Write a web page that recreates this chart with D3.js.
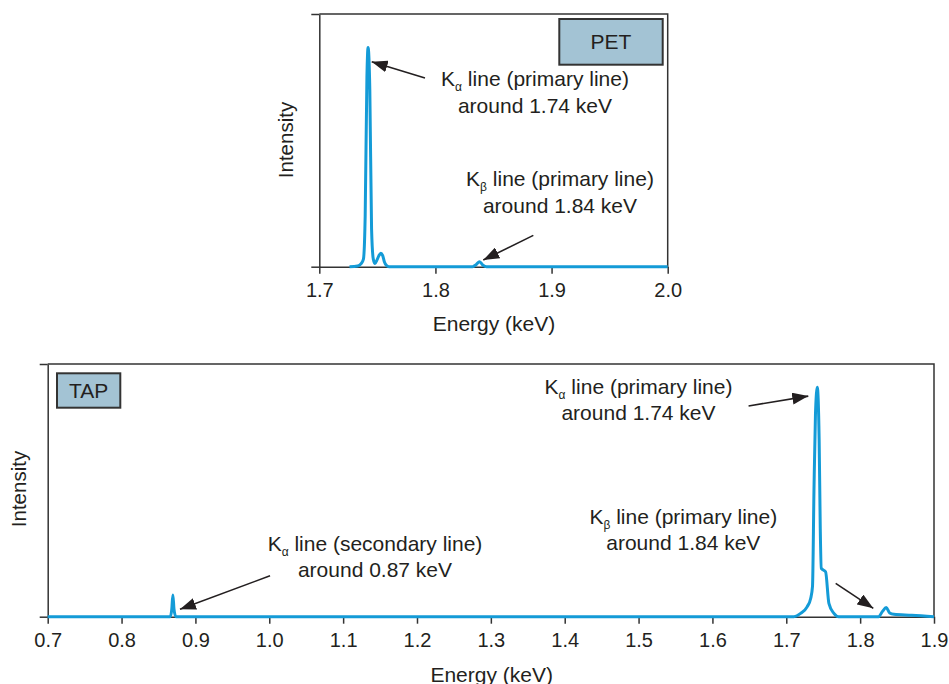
<!DOCTYPE html>
<html>
<head>
<meta charset="utf-8">
<script src="https://cdn.jsdelivr.net/npm/d3@7"></script>
<style>
  body { margin: 0; background: #fff; }
  text { font-family: "Liberation Sans", Arial, sans-serif; fill: #231f20; }
</style>
</head>
<body>
<div id="container"></div>
<script>
// PET crystal spectrum (energy in keV, intensity in % of axis height)
const petEnergy = [1.726, 1.733, 1.736, 1.738, 1.7395, 1.741, 1.742, 1.7435, 1.745, 1.7465, 1.748,
  1.750, 1.7515, 1.753, 1.7545, 1.756, 1.758, 1.760, 1.832, 1.835, 1.838, 1.841, 1.844, 2.0];
const petIntensity = [0, 0.3, 1.2, 3, 20, 75, 86.7, 70, 15, 3, 1.3,
  3, 4.5, 5.3, 4.5, 2, 0.4, 0, 0, 0.8, 2, 0.6, 0, 0];

// TAP crystal spectrum
const tapEnergy = [0.7, 0.866, 0.868, 0.8695, 0.871, 0.8735, 1.70, 1.7103, 1.7194, 1.7284, 1.733,
  1.7355, 1.7375, 1.7395, 1.742, 1.7445, 1.746, 1.7474, 1.7532, 1.7577, 1.7645, 1.771,
  1.825, 1.830, 1.8354, 1.840, 1.8457, 1.87, 1.9];
const tapIntensity = [0, 0, 3, 8.6, 3, 0, 0, 0, 1.3, 4, 7.2,
  12, 50, 80, 90.8, 70, 35, 19.1, 17.8, 5.3, 1.3, 0,
  0, 2, 3.6, 1.5, 0.95, 0.6, 0];

const petTicks = [1.7, 1.8, 1.9, 2.0];
const tapTicks = [0.7, 0.8, 0.9, 1.0, 1.1, 1.2, 1.3, 1.4, 1.5, 1.6, 1.7, 1.8, 1.9];

const lineColor = "#149bd7";
const axisColor = "#333";

const svg = d3.select("#container")
  .append("svg")
  .attr("width", 949)
  .attr("height", 684);

// arrow head
svg.append("defs").append("marker")
  .attr("id", "head")
  .attr("markerUnits", "userSpaceOnUse")
  .attr("viewBox", "0 0 16 12")
  .attr("refX", 16)
  .attr("refY", 6)
  .attr("markerWidth", 16)
  .attr("markerHeight", 12)
  .attr("orient", "auto")
  .append("path")
  .attr("d", "M0,0L16,6L0,12Z")
  .attr("fill", "#231f20");

// label with a greek subscript
const kLabel = (g, x, y, sub, rest, second) => {
  const t = g.append("text")
    .attr("x", x)
    .attr("y", y)
    .attr("text-anchor", "middle")
    .style("font-size", "21px");
  t.append("tspan").text("K");
  t.append("tspan").attr("dy", 5).style("font-size", "12px").text(sub);
  t.append("tspan").attr("dy", -5).text(" " + rest);
  g.append("text")
    .attr("x", x)
    .attr("y", y + 26.5)
    .attr("text-anchor", "middle")
    .style("font-size", "21px")
    .text(second);
};

const drawPanel = (opt) => {
  const x = d3.scaleLinear().domain(opt.domain).range([opt.left, opt.right]);
  const y = d3.scaleLinear().domain([0, 100]).range([opt.bottom, opt.top]);
  const g = svg.append("g");

  // frame (top + right)
  g.append("path")
    .attr("d", `M${opt.left},${opt.top}H${opt.right}V${opt.bottom}`)
    .attr("fill", "none")
    .attr("stroke", axisColor)
    .attr("stroke-width", 1.5);

  const xAxis = g.append("g")
    .attr("transform", `translate(0,${opt.bottom})`)
    .call(d3.axisBottom(x)
      .tickValues(opt.ticks)
      .tickFormat(d3.format(".1f"))
      .tickSizeInner(7)
      .tickSizeOuter(0)
      .tickPadding(9.5));
  xAxis.selectAll("path, line").attr("stroke", axisColor).attr("stroke-width", 1.5);
  xAxis.selectAll("text")
    .style("font-size", "20px")
    .style("font-family", "'Liberation Sans', Arial, sans-serif")
    .attr("fill", "#231f20");

  const yAxis = g.append("g")
    .attr("transform", `translate(${opt.left},0)`)
    .call(d3.axisLeft(y).tickValues([0, 100]).tickFormat("").tickSizeInner(8).tickSizeOuter(0));
  yAxis.selectAll("path, line").attr("stroke", axisColor).attr("stroke-width", 1.5);

  // spectrum
  const pts = opt.energy.map((e, i) => [e, opt.intensity[i]]);
  g.append("path")
    .datum(pts)
    .attr("fill", "none")
    .attr("stroke", lineColor)
    .attr("stroke-width", 3)
    .attr("stroke-linejoin", "round")
    .attr("d", d3.line().x(d => x(d[0])).y(d => y(d[1])).curve(d3.curveMonotoneX));

  // axis titles
  g.append("text")
    .attr("x", opt.xTitle[0])
    .attr("y", opt.xTitle[1])
    .attr("text-anchor", "middle")
    .style("font-size", "21px")
    .text("Energy (keV)");
  g.append("text")
    .attr("transform", `translate(${opt.yTitle[0]},${opt.yTitle[1]}) rotate(-90)`)
    .attr("text-anchor", "middle")
    .style("font-size", "20.5px")
    .text("Intensity");

  // crystal label box
  g.append("rect")
    .attr("x", opt.box[0])
    .attr("y", opt.box[1])
    .attr("width", opt.box[2])
    .attr("height", opt.box[3])
    .attr("fill", "#a3c3d4")
    .attr("stroke", "#333")
    .attr("stroke-width", 2);
  g.append("text")
    .attr("x", opt.box[0] + opt.box[2] / 2)
    .attr("y", opt.box[1] + opt.box[3] / 2 + 7.5)
    .attr("text-anchor", "middle")
    .style("font-size", "21px")
    .text(opt.name);

  // arrows (in data coordinates)
  opt.arrows.forEach(a => {
    g.append("line")
      .attr("x1", x(a[0])).attr("y1", y(a[1]))
      .attr("x2", x(a[2])).attr("y2", y(a[3]))
      .attr("stroke", "#231f20")
      .attr("stroke-width", 1.6)
      .attr("marker-end", "url(#head)");
  });

  opt.labels.forEach(l => kLabel(g, l[0], l[1], l[2], l[3], l[4]));
};

drawPanel({
  name: "PET",
  domain: [1.7, 2.0],
  left: 319.3, right: 667.7, top: 14, bottom: 266.7,
  ticks: petTicks,
  energy: petEnergy, intensity: petIntensity,
  xTitle: [494, 331], yTitle: [292.5, 140],
  box: [559.3, 19, 103.4, 45.7],
  arrows: [[1.791, 74.7, 1.7451, 81.1], [1.8843, 12.4, 1.8412, 2.65]],
  labels: [
    [535, 86, "α", "line (primary line)", "around 1.74 keV"],
    [560, 186, "β", "line (primary line)", "around 1.84 keV"]
  ]
});

drawPanel({
  name: "TAP",
  domain: [0.7, 1.9],
  left: 47.7, right: 934, top: 364, bottom: 616.7,
  ticks: tapTicks,
  energy: tapEnergy, intensity: tapIntensity,
  xTitle: [491.7, 681.5], yTitle: [26, 489],
  box: [57, 373.3, 63.3, 34.4],
  arrows: [[1.6489, 83.4, 1.7298, 87.3], [1.7669, 13.2, 1.8178, 3.3], [1.001, 16.2, 0.8791, 2.9]],
  labels: [
    [638.5, 393.5, "α", "line (primary line)", "around 1.74 keV"],
    [683.3, 523.5, "β", "line (primary line)", "around 1.84 keV"],
    [375, 550.5, "α", "line (secondary line)", "around 0.87 keV"]
  ]
});
</script>
</body>
</html>
